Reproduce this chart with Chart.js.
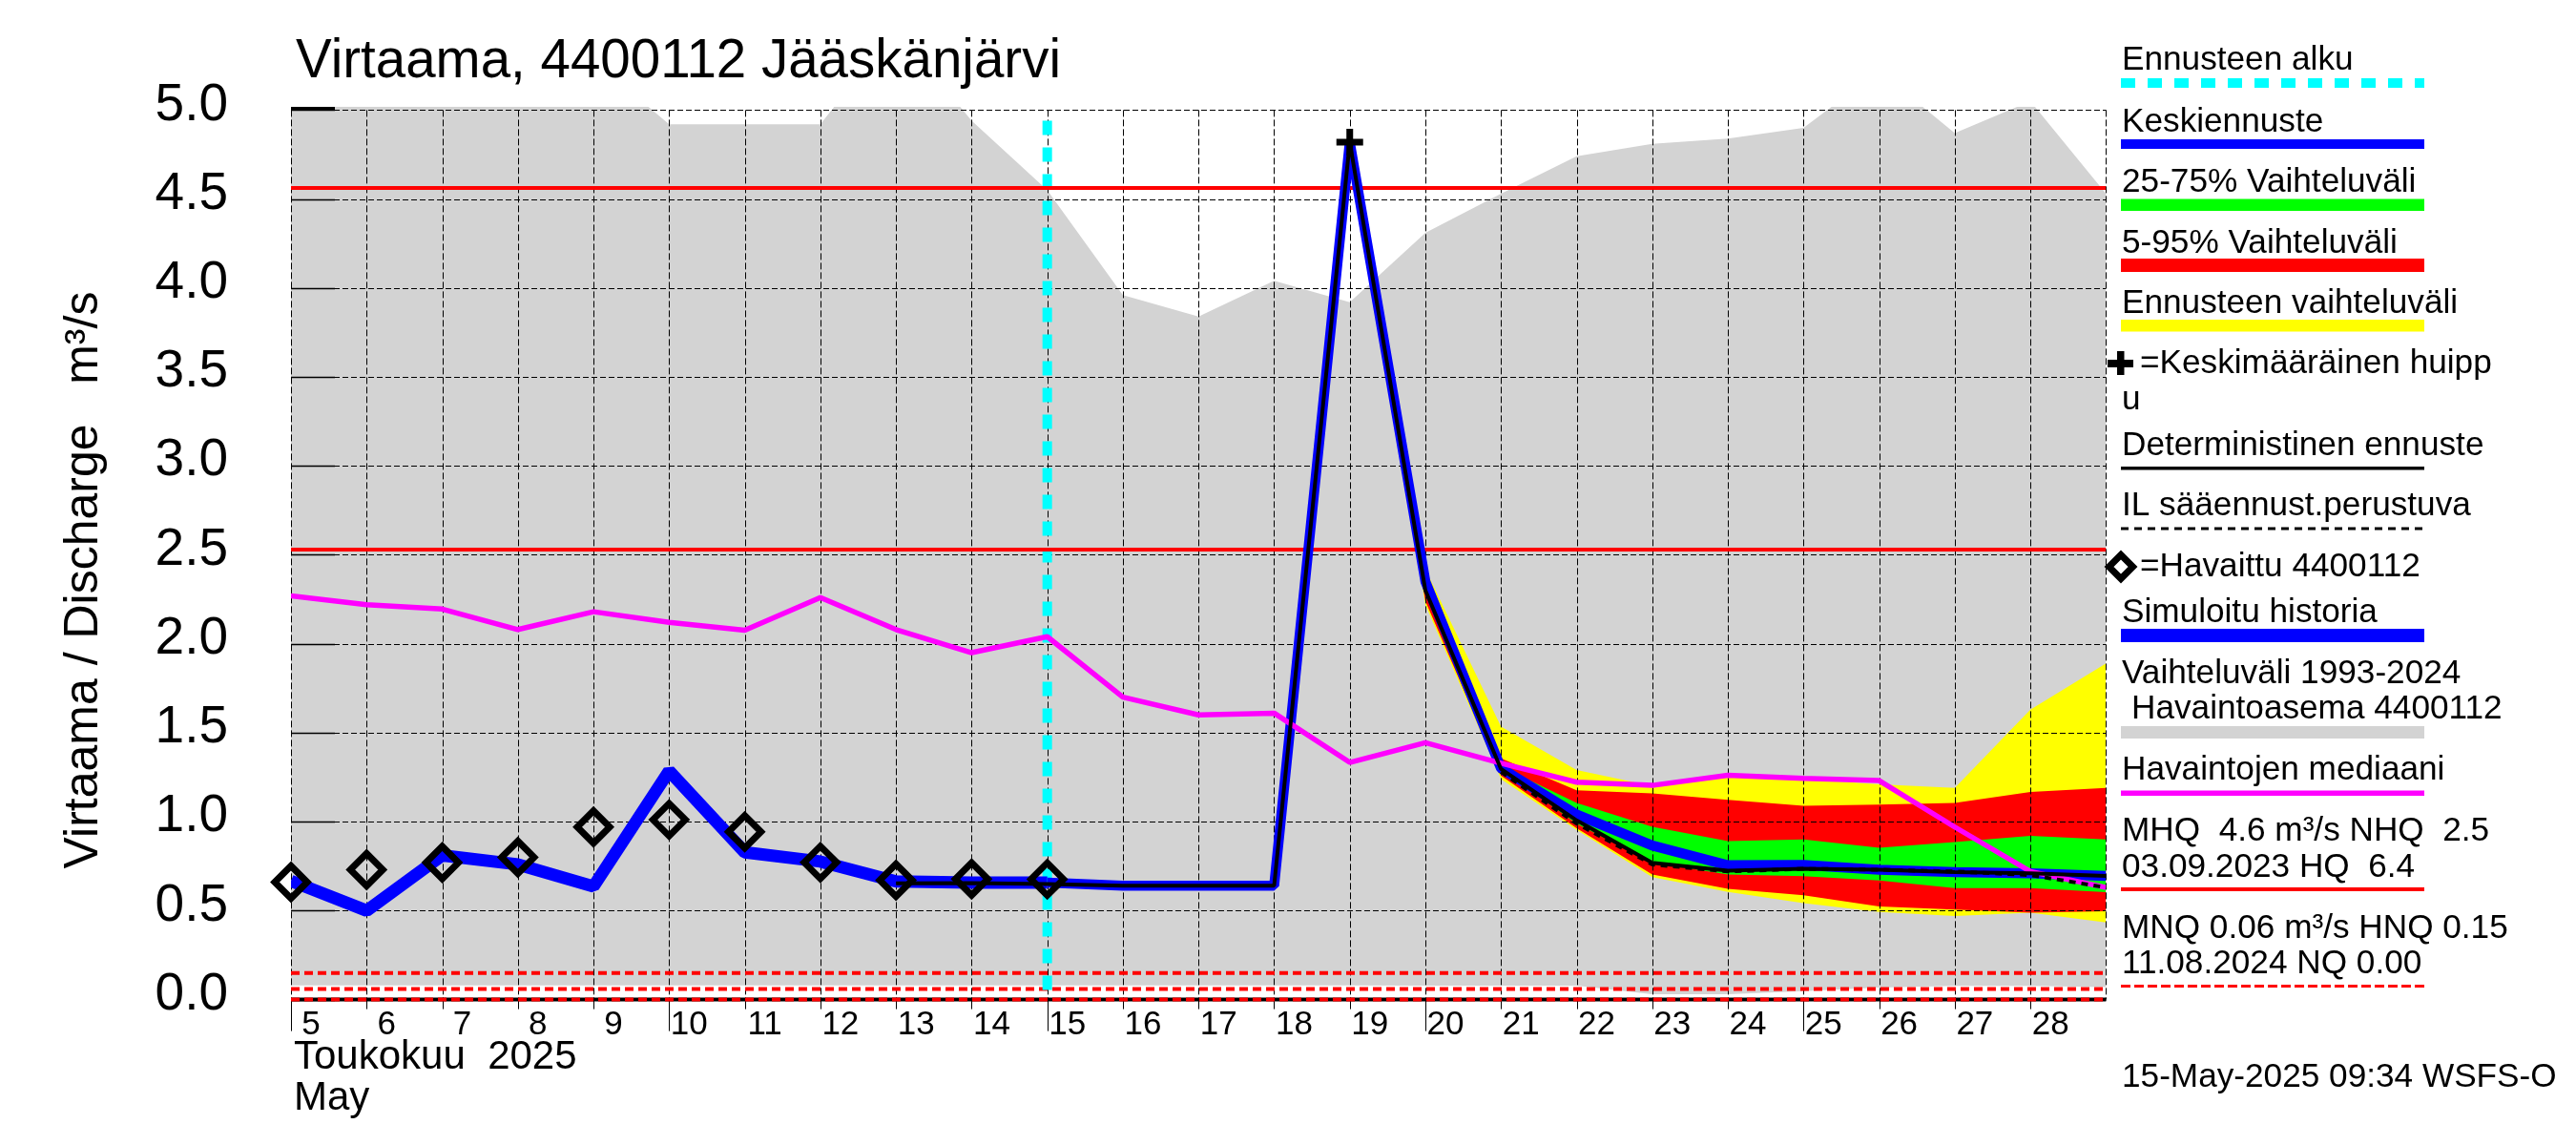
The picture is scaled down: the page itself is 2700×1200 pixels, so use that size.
<!DOCTYPE html>
<html>
<head>
<meta charset="utf-8">
<style>html,body{margin:0;padding:0;background:#fff}canvas{display:block}</style>
<script src="https://cdn.jsdelivr.net/npm/chart.js"></script>
</head>
<body>
<canvas id="c" width="2700" height="1200" style="width:2700px;height:1200px"></canvas>
<script>
const FONT = '"Liberation Sans", Arial, sans-serif';

const titleText = 'Virtaama, 4400112 Jääskänjärvi';
const yAxisText = 'Virtaama / Discharge   m³/s';
const monthLabels = ['Toukokuu  2025', 'May'];
const stampText = '15-May-2025 09:34 WSFS-O';

const days = [5,6,7,8,9,10,11,12,13,14,15,16,17,18,19,20,21,22,23,24,25,26,27,28,29];
const forecastDays = [19,20,21,22,23,24,25,26,27,28,29];
const historyDays = [5,6,7,8,9,10,11,12,13,14,15];
const futureDays = [15,16,17,18,19,20,21,22,23,24,25,26,27,28,29];
const detDays = [13,14,15,16,17,18,19,20,21,22,23,24,25,26,27,28,29];
const ilDays = [21,22,23,24,25,26,27,28,29];
const obsDays = [5,6,7,8,9,10,11,12,13,14,15];

const rangeUpper = [5.3,5.3,5.3,5.3,5.28,4.92,4.92,4.92,5.46,4.94,4.55,3.96,3.84,4.04,3.92,4.31,4.53,4.74,4.81,4.84,4.90,5.22,4.87,5.05,4.53];
const rangeLower = [0.08,0.08,0.08,0.08,0.08,0.08,0.08,0.08,0.08,0.08,0.08,0.08,0.08,0.08,0.08,0.078,0.078,0.078,0.03,0.03,0.048,0.068,0.077,0.077,0.07];
const median = [2.27,2.22,2.195,2.08,2.18,2.12,2.076,2.26,2.08,1.95,2.04,1.70,1.60,1.61,1.333,1.444,1.329,1.222,1.204,1.261,1.243,1.231,0.97,0.72,0.63];

const yellowUpper = [4.90,2.42,1.534,1.29,1.20,1.27,1.24,1.21,1.19,1.63,1.89];
const yellowLower = [4.78,2.22,1.24,0.954,0.689,0.605,0.542,0.493,0.47,0.488,0.434];
const redUpper = [4.84,2.36,1.356,1.177,1.159,1.123,1.09,1.096,1.105,1.167,1.19];
const redLower = [4.79,2.24,1.258,0.963,0.703,0.623,0.587,0.524,0.506,0.488,0.497];
const greenUpper = [4.83,2.34,1.31,1.105,0.971,0.891,0.90,0.854,0.886,0.92,0.90];
const greenLower = [4.81,2.30,1.293,0.989,0.77,0.703,0.694,0.67,0.627,0.627,0.604];

const historySim = [0.667,0.50,0.81,0.76,0.636,1.285,0.828,0.776,0.664,0.658,0.657];
const meanForecast = [0.657,0.64,0.64,0.64,4.82,2.35,1.30,1.04,0.866,0.755,0.757,0.73,0.717,0.71,0.695];
const deterministic = [0.653,0.655,0.65,0.64,0.64,0.64,4.82,2.30,1.296,1.007,0.769,0.725,0.735,0.73,0.717,0.71,0.695];
const ilForecast = [1.28,0.99,0.76,0.72,0.735,0.73,0.72,0.70,0.63];
const observed = [0.66,0.73,0.77,0.80,0.97,1.011,0.943,0.771,0.671,0.678,0.677];
const peakDay = [19];
const peakValue = [4.82];

const mhq = 4.562, nhq = 2.53, mnq = 0.06, hnq = 0.15, nq = 0.0;
const forecastStartDay = 15;
const forecastStartTop = 4.94;
const yTicksStep = 0.5;

const legendLabels = {
  start:'Ennusteen alku', mean:'Keskiennuste', q25:'25-75% Vaihteluväli', q5:'5-95% Vaihteluväli',
  range:'Ennusteen vaihteluväli', peak1:'=Keskimääräinen huipp', peak2:'u', det:'Deterministinen ennuste',
  il:'IL sääennust.perustuva', obs:'=Havaittu 4400112', sim:'Simuloitu historia',
  hist1:'Vaihteluväli 1993-2024', hist2:'Havaintoasema 4400112', med:'Havaintojen mediaani',
  mhq1:'MHQ  4.6 m³/s NHQ  2.5', mhq2:'03.09.2023 HQ  6.4', mnq1:'MNQ 0.06 m³/s HNQ 0.15', mnq2:'11.08.2024 NQ 0.00'
};

const pts = (xs, ys) => xs.map((x,i)=>({x, y:ys[i]}));
const flat = (v) => [{x:5,y:v},{x:29,y:v}];
const band = (label, data, extra) => Object.assign({label, data, borderWidth:0, pointRadius:0, tension:0, fill:false}, extra||{});
const line = (label, data, color, width, extra) => Object.assign({label, data, borderColor:color, backgroundColor:color, borderWidth:width, pointRadius:0, tension:0, fill:false, borderCapStyle:'butt', borderJoinStyle:'bevel'}, extra||{});

const datasets = [
  band('Vaihteluväli ylä', pts(days,rangeUpper), {fill:1, backgroundColor:'#d3d3d3'}),
  band('Vaihteluväli ala', pts(days,rangeLower)),
  band('Ennuste ylä', pts(forecastDays,yellowUpper), {fill:3, backgroundColor:'#ffff00'}),
  band('Ennuste ala', pts(forecastDays,yellowLower)),
  band('5-95 ylä', pts(forecastDays,redUpper), {fill:5, backgroundColor:'#ff0000'}),
  band('5-95 ala', pts(forecastDays,redLower)),
  band('25-75 ylä', pts(forecastDays,greenUpper), {fill:7, backgroundColor:'#00ff00'}),
  band('25-75 ala', pts(forecastDays,greenLower)),
  line('HNQ', flat(hnq), '#ff0000', 4, {borderDash:[9,5], clip:false}),
  line('MNQ', flat(mnq), '#ff0000', 4, {borderDash:[9,5], clip:false}),
  line('NQ', flat(nq), '#ff0000', 4, {borderDash:[9,5], clip:false}),
  line('Ennusteen alku', [{x:forecastStartDay,y:forecastStartTop},{x:forecastStartDay,y:0}], '#00ffff', 10, {borderDash:[15,13], clip:false}),
  line('MHQ', flat(mhq), '#ff0000', 4),
  line('NHQ', flat(nhq), '#ff0000', 4),
  line('Simuloitu historia', pts(historyDays,historySim), '#0000ff', 13),
  line('Keskiennuste', pts(futureDays,meanForecast), '#0000ff', 10.5),
  line('Havaintojen mediaani', pts(days,median), '#ff00ff', 5.5),
  line('Deterministinen ennuste', pts(detDays,deterministic), '#000000', 4),
  line('IL sääennust.perustuva', pts(ilDays,ilForecast), '#000000', 4, {borderDash:[7,6]}),
  line('Havaittu', pts(obsDays,observed), '#000000', 0, {showLine:false, pointStyle:'rectRot', pointRadius:17, pointBorderWidth:7, pointBorderColor:'#000', pointBackgroundColor:'rgba(0,0,0,0)', clip:false}),
  line('Keskimääräinen huippu', pts(peakDay,peakValue), '#000000', 0, {showLine:false, pointStyle:'cross', pointRadius:14, pointBorderWidth:7, pointBorderColor:'#000', clip:false})
];
datasets.forEach((d,i)=>{ d.order = datasets.length - i; });

const overFills = {
  id:'overFills',
  afterLayout(chart){ if (chart.titleBlock && !chart.$titleMoved) { chart.titleBlock.left += 5; chart.$titleMoved = true; } },
  beforeDatasetDraw(chart,args){
    if (chart.data.datasets[args.index].label !== 'HNQ') return;
    const {ctx, scales:{x,y}} = chart;
    const top = y.getPixelForValue(5), bot = y.getPixelForValue(0), l = x.getPixelForValue(5), r = x.getPixelForValue(29);
    ctx.save();
    ctx.strokeStyle = '#000';
    ctx.lineWidth = 1;
    ctx.setLineDash([6,3]);
    for (let v = 0; v <= 5.001; v += yTicksStep) {
      const py = Math.round(y.getPixelForValue(v)) + 0.5;
      ctx.beginPath(); ctx.moveTo(l,py); ctx.lineTo(r,py); ctx.stroke();
    }
    ctx.setLineDash([7,3]);
    for (let d = 5; d <= 29; d++) {
      const px = Math.round(x.getPixelForValue(d)) + 0.5;
      ctx.beginPath(); ctx.moveTo(px,top); ctx.lineTo(px,bot); ctx.stroke();
    }
    ctx.setLineDash([]);
    ctx.lineWidth = 1.5;
    for (let v = 0; v <= 5.001; v += yTicksStep) {
      const py = Math.round(y.getPixelForValue(v)) + 0.5;
      ctx.beginPath(); ctx.moveTo(l,py); ctx.lineTo(l+46,py); ctx.stroke();
    }
    ctx.lineWidth = 1;
    for (let d = 5; d < 29; d++) {
      const px = Math.round(x.getPixelForValue(d)) + 0.5;
      ctx.beginPath(); ctx.moveTo(px,bot); ctx.lineTo(px,bot+((d%5===0)?33:10)); ctx.stroke();
    }
    ctx.lineWidth = 4;
    ctx.beginPath(); ctx.moveTo(l,bot); ctx.lineTo(r,bot); ctx.stroke();
    ctx.lineWidth = 3;
    ctx.beginPath(); ctx.moveTo(l,top-2); ctx.lineTo(l+46,top-2); ctx.stroke();
    ctx.restore();
  }
};

const annotations = {
  id:'annotations',
  afterDraw(chart){
    const ctx = chart.ctx;
    ctx.save();
    ctx.fillStyle = '#000';
    ctx.textAlign = 'left';
    ctx.textBaseline = 'alphabetic';
    // y-axis title
    ctx.save();
    ctx.translate(102,608);
    ctx.rotate(-Math.PI/2);
    ctx.textAlign = 'center';
    ctx.font = '50px '+FONT;
    ctx.fillText(yAxisText,0,0);
    ctx.restore();
    // month labels
    ctx.font = '42px '+FONT;
    ctx.fillText(monthLabels[0],308,1120);
    ctx.fillText(monthLabels[1],308,1163);
    // legend
    const L = legendLabels, lx = 2224, sx = 2223, sw = 318;
    ctx.font = '35.2px '+FONT;
    const rows = [
      [L.start,lx,73],[L.mean,lx,138],[L.q25,lx,201],[L.q5,lx,265],[L.range,lx,328],
      [L.peak1,2243,391],[L.peak2,lx,429],[L.det,lx,477],[L.il,lx,540],[L.obs,2243,603.5],
      [L.sim,lx,652],[L.hist1,lx,716],[L.hist2,2234,753],[L.med,lx,817],
      [L.mhq1,lx,881],[L.mhq2,lx,919],[L.mnq1,lx,983],[L.mnq2,lx,1020],[stampText,lx,1139]
    ];
    rows.forEach(r=>ctx.fillText(r[0],r[1],r[2]));
    const solid = (color,y0,y1)=>{ctx.fillStyle=color;ctx.fillRect(sx,y0,sw,y1-y0);};
    solid('#0000ff',146,156); solid('#00ff00',208.5,221); solid('#ff0000',271,285); solid('#ffff00',335,347.5);
    solid('#000000',489,492.5); solid('#0000ff',659,673); solid('#d3d3d3',761,774); solid('#ff00ff',828.5,834); solid('#ff0000',930,934);
    const dashed = (color,yc,w,dash)=>{ctx.strokeStyle=color;ctx.lineWidth=w;ctx.setLineDash(dash);ctx.beginPath();ctx.moveTo(sx,yc);ctx.lineTo(sx+sw,yc);ctx.stroke();ctx.setLineDash([]);};
    dashed('#00ffff',87,10,[15,13]);
    dashed('#000000',554,3,[8,6]);
    dashed('#ff0000',1033.5,3,[10,4]);
    // plus marker
    ctx.fillStyle = '#000';
    ctx.fillRect(2209,377,27,8); ctx.fillRect(2219,368,7.5,25);
    // diamond marker
    ctx.strokeStyle = '#000'; ctx.lineWidth = 7;
    ctx.beginPath(); ctx.moveTo(2223,581.5); ctx.lineTo(2235.5,594); ctx.lineTo(2223,606.5); ctx.lineTo(2210.5,594); ctx.closePath(); ctx.stroke();
    ctx.restore();
  }
};

new Chart(document.getElementById('c'), {
  type:'line',
  data:{datasets},
  plugins:[overFills, annotations],
  options:{
    responsive:false, animation:false, devicePixelRatio:1,
    layout:{padding:{left:0,top:0,right:492.6,bottom:0}},
    plugins:{
      legend:{display:false}, tooltip:{enabled:false},
      title:{display:true, text:titleText, align:'start', fullSize:false, color:'#000',
        font:{family:FONT,size:56.5,weight:'normal',lineHeight:1.2}, padding:{top:32,bottom:11.85}}
    },
    scales:{
      x:{type:'linear',min:5,max:29,
        grid:{display:false,drawTicks:false},border:{display:false},
        afterFit(s){s.height=152.4;},
        ticks:{stepSize:1,autoSkip:false,maxRotation:0,minRotation:0,labelOffset:21,padding:6,color:'#000',
          font:{family:FONT,size:35},callback:v=>v===29?'':String(v)}},
      y:{type:'linear',min:0,max:5.02,
        grid:{display:false,drawTicks:false},border:{display:false},
        afterFit(s){s.width=305;},
        ticks:{stepSize:yTicksStep,includeBounds:false,labelOffset:-5,padding:66,color:'#000',
          font:{family:FONT,size:55},callback:v=>Number(v).toFixed(1)}}
    }
  }
});
</script>
</body>
</html>
